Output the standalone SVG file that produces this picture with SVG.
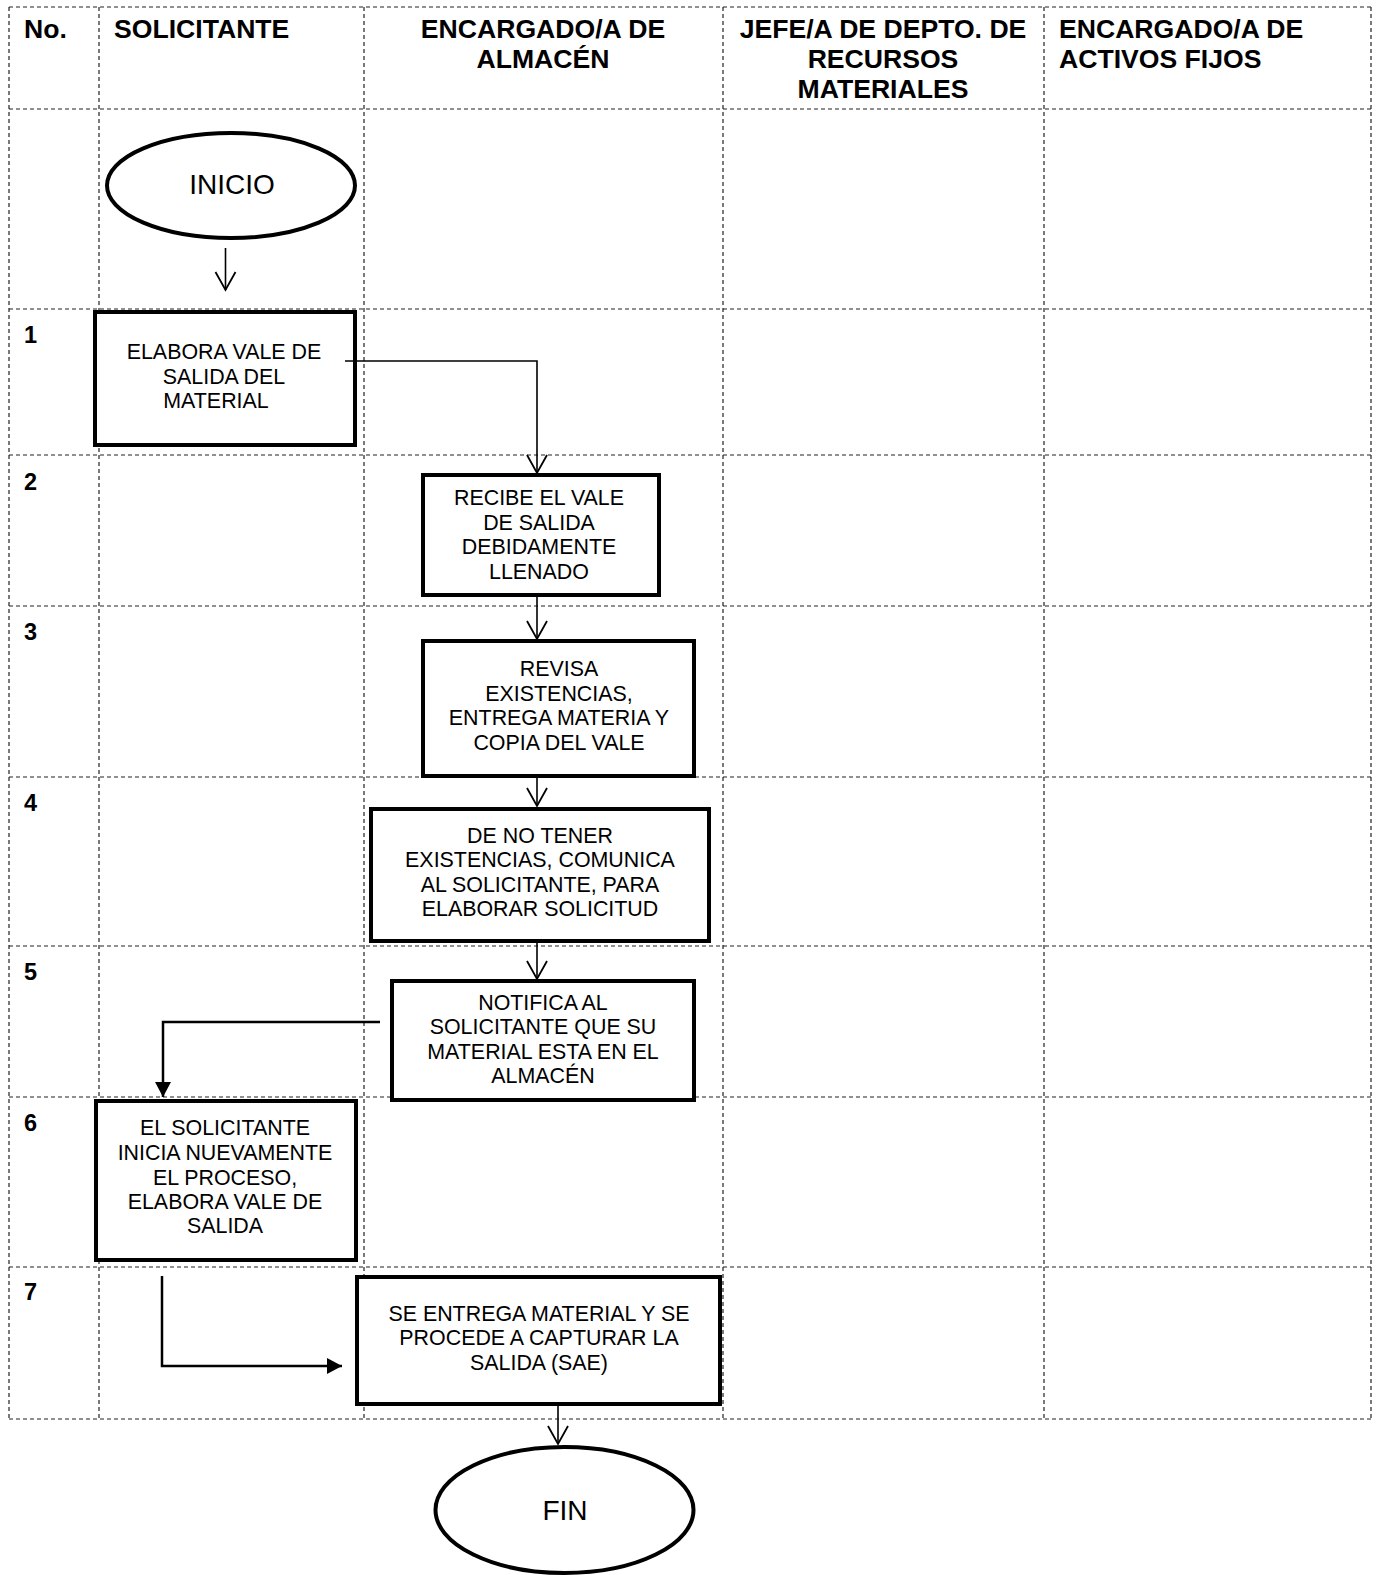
<svg xmlns="http://www.w3.org/2000/svg" width="1376" height="1575" viewBox="0 0 1376 1575">
<style>
.grid{stroke:#222;stroke-width:1.2;stroke-dasharray:4 3;fill:none}
.hd{font-family:"Liberation Sans",Arial,sans-serif;font-weight:bold;font-size:26.6px;fill:#000}
.num{font-family:"Liberation Sans",Arial,sans-serif;font-weight:bold;font-size:23.5px;fill:#000}
.box{fill:#fff;stroke:#000;stroke-width:4}
.tx{font-family:"Liberation Sans",Arial,sans-serif;font-size:21.4px;fill:#000;text-anchor:middle}
.term{font-family:"Liberation Sans",Arial,sans-serif;font-size:28px;fill:#000;text-anchor:middle}
.thin{fill:none;stroke:#000;stroke-width:1.6;marker-end:url(#open)}
.thick{fill:none;stroke:#000;stroke-width:2.5;marker-end:url(#solid)}
</style>
<defs>
<marker id="open" markerUnits="userSpaceOnUse" viewBox="-20 -12 22 24" refX="0" refY="0" markerWidth="22" markerHeight="24" orient="auto" overflow="visible">
<path d="M-18,-10 L0,0 L-18,10" fill="none" stroke="#000" stroke-width="1.8"/>
</marker>
<marker id="solid" markerUnits="userSpaceOnUse" viewBox="-16 -9 17 18" refX="0" refY="0" markerWidth="17" markerHeight="18" orient="auto" overflow="visible">
<path d="M-15,-8 L0,0 L-15,8 Z" fill="#000"/>
</marker>
</defs>
<rect width="1376" height="1575" fill="#fff"/>
<g id="grid">
<path class="grid" d="M9,7 H1371 M9,109 H1371 M9,309 H1371 M9,455 H1371 M9,606 H1371 M9,777 H1371 M9,946 H1371 M9,1097 H1371 M9,1267 H1371 M9,1419 H1371"/>
<path class="grid" d="M9,7 V1419 M99,7 V1419 M364,7 V1419 M723,7 V1419 M1044,7 V1419 M1371,7 V1419"/>
</g>
<g id="headers">
<text class="hd" x="24" y="38">No.</text>
<text class="hd" x="114" y="38">SOLICITANTE</text>
<text class="hd" x="543" y="38" text-anchor="middle">ENCARGADO/A DE</text>
<text class="hd" x="543" y="68" text-anchor="middle">ALMACÉN</text>
<text class="hd" x="883" y="38" text-anchor="middle">JEFE/A DE DEPTO. DE</text>
<text class="hd" x="883" y="68" text-anchor="middle">RECURSOS</text>
<text class="hd" x="883" y="98" text-anchor="middle">MATERIALES</text>
<text class="hd" x="1059" y="38">ENCARGADO/A DE</text>
<text class="hd" x="1059" y="68">ACTIVOS FIJOS</text>
</g>
<g id="numbers">
<text class="num" x="24" y="343">1</text>
<text class="num" x="24" y="490">2</text>
<text class="num" x="24" y="640">3</text>
<text class="num" x="24" y="811">4</text>
<text class="num" x="24" y="980">5</text>
<text class="num" x="24" y="1131">6</text>
<text class="num" x="24" y="1300">7</text>
</g>
<g id="inicio">
<ellipse cx="231" cy="185.5" rx="124" ry="52.5" fill="#fff" stroke="#000" stroke-width="4"/>
<text class="term" x="232" y="194" font-size="29.5">INICIO</text>
</g>
<g id="n1">
<rect class="box" x="95" y="312" width="260" height="133"/>
<text class="tx" x="224" y="359">ELABORA VALE DE</text>
<text class="tx" x="224" y="383.5">SALIDA DEL</text>
<text class="tx" x="216" y="408">MATERIAL</text>
</g>
<g id="n2">
<rect class="box" x="423" y="475" width="236" height="120"/>
<text class="tx" x="539" y="505">RECIBE EL VALE</text>
<text class="tx" x="539" y="530">DE SALIDA</text>
<text class="tx" x="539" y="554">DEBIDAMENTE</text>
<text class="tx" x="539" y="579">LLENADO</text>
</g>
<g id="n3">
<rect class="box" x="423" y="641" width="271" height="135"/>
<text class="tx" x="559" y="676">REVISA</text>
<text class="tx" x="559" y="701">EXISTENCIAS,</text>
<text class="tx" x="559" y="725">ENTREGA MATERIA Y</text>
<text class="tx" x="559" y="750">COPIA DEL VALE</text>
</g>
<g id="n4">
<rect class="box" x="371" y="809" width="338" height="132"/>
<text class="tx" x="540" y="843">DE NO TENER</text>
<text class="tx" x="540" y="867">EXISTENCIAS, COMUNICA</text>
<text class="tx" x="540" y="892">AL SOLICITANTE, PARA</text>
<text class="tx" x="540" y="916">ELABORAR SOLICITUD</text>
</g>
<g id="n5">
<rect class="box" x="392" y="981" width="302" height="119"/>
<text class="tx" x="543" y="1010">NOTIFICA AL</text>
<text class="tx" x="543" y="1034">SOLICITANTE QUE SU</text>
<text class="tx" x="543" y="1059">MATERIAL ESTA EN EL</text>
<text class="tx" x="543" y="1083">ALMACÉN</text>
</g>
<g id="n6">
<rect class="box" x="96" y="1101" width="260" height="159"/>
<text class="tx" x="225" y="1135">EL SOLICITANTE</text>
<text class="tx" x="225" y="1160">INICIA NUEVAMENTE</text>
<text class="tx" x="225" y="1185">EL PROCESO,</text>
<text class="tx" x="225" y="1209">ELABORA VALE DE</text>
<text class="tx" x="225" y="1233">SALIDA</text>
</g>
<g id="n7">
<rect class="box" x="357" y="1277" width="363" height="127"/>
<text class="tx" x="539" y="1321">SE ENTREGA MATERIAL Y SE</text>
<text class="tx" x="539" y="1345">PROCEDE A CAPTURAR LA</text>
<text class="tx" x="539" y="1370">SALIDA (SAE)</text>
</g>
<g id="fin">
<ellipse cx="564.5" cy="1510" rx="129" ry="63" fill="#fff" stroke="#000" stroke-width="4"/>
<text class="term" x="565" y="1520">FIN</text>
</g>
<g id="connectors">
<path class="thin" d="M225.5,248 V290"/>
<path class="thin" d="M345,361 H537 V473"/>
<path class="thin" d="M537,597 V639"/>
<path class="thin" d="M537,778 V806"/>
<path class="thin" d="M537,943 V979"/>
<path class="thick" d="M380,1022 H163 V1097"/>
<path class="thick" d="M162,1276 V1366 H342"/>
<path class="thin" d="M558,1406 V1444"/>
</g>
</svg>
